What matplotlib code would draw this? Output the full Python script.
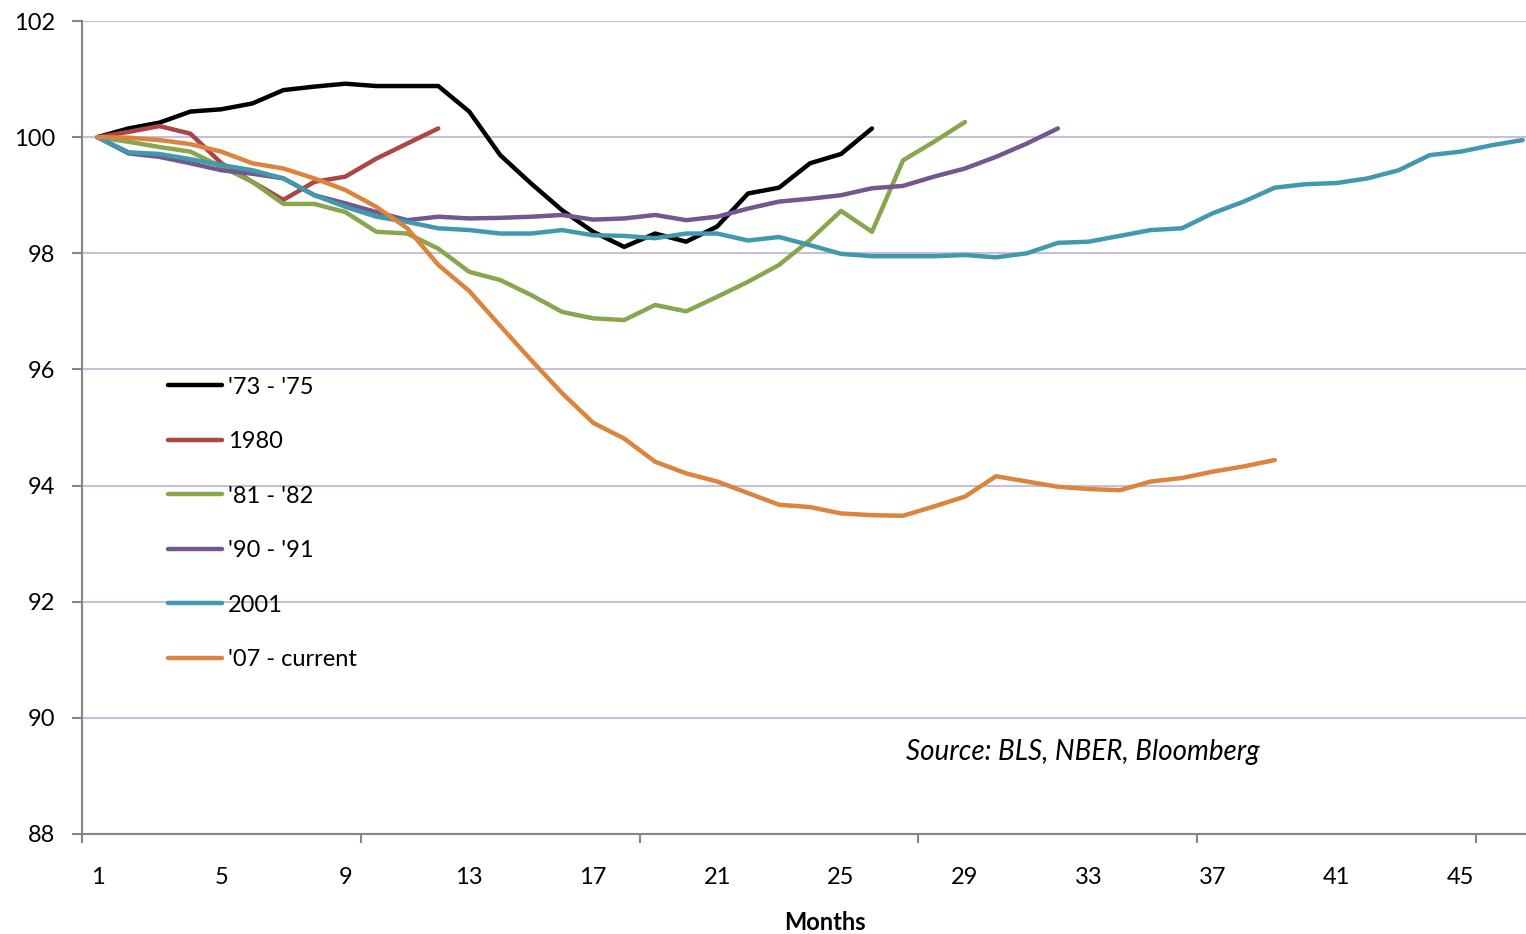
import matplotlib
matplotlib.use('Agg')
import matplotlib.pyplot as plt
from matplotlib.ticker import FixedLocator

plt.rcParams['font.family'] = ['Lato', 'DejaVu Sans']

# index of payroll employment, peak = 100, by month since the peak
months = list(range(1, 48))

s73_75 = [100.0, 100.15, 100.25, 100.44, 100.48, 100.58, 100.81, 100.87, 100.92, 100.88,
          100.88, 100.88, 100.44, 99.69, 99.2, 98.74, 98.37, 98.11, 98.34, 98.2,
          98.46, 99.03, 99.13, 99.55, 99.71, 100.15]
s1980 = [100.0, 100.09, 100.19, 100.06, 99.55, 99.23, 98.92, 99.23, 99.32, 99.63,
         99.89, 100.15]
s81_82 = [100.0, 99.92, 99.83, 99.75, 99.49, 99.23, 98.85, 98.85, 98.71, 98.37,
          98.34, 98.08, 97.68, 97.54, 97.28, 96.99, 96.88, 96.85, 97.11, 97.0,
          97.25, 97.51, 97.8, 98.23, 98.73, 98.37, 99.6, 99.92, 100.26]
s90_91 = [100.0, 99.72, 99.66, 99.55, 99.43, 99.37, 99.29, 99.0, 98.86, 98.71,
          98.57, 98.63, 98.6, 98.61, 98.63, 98.66, 98.58, 98.6, 98.66, 98.57,
          98.63, 98.77, 98.89, 98.94, 99.0, 99.12, 99.16, 99.32, 99.46, 99.66,
          99.89, 100.15]
s2001 = [100.0, 99.74, 99.71, 99.62, 99.52, 99.43, 99.29, 99.0, 98.8, 98.63,
         98.54, 98.43, 98.4, 98.34, 98.34, 98.4, 98.31, 98.3, 98.26, 98.34,
         98.34, 98.22, 98.28, 98.14, 97.99, 97.95, 97.95, 97.95, 97.97, 97.93,
         98.0, 98.18, 98.2, 98.3, 98.4, 98.43, 98.69, 98.89, 99.13, 99.19,
         99.21, 99.29, 99.43, 99.69, 99.75, 99.86, 99.95]
s07_cur = [100.0, 99.99, 99.95, 99.88, 99.75, 99.55, 99.46, 99.29, 99.09, 98.8,
           98.43, 97.8, 97.35, 96.75, 96.16, 95.59, 95.08, 94.81, 94.41, 94.21,
           94.07, 93.87, 93.67, 93.63, 93.52, 93.49, 93.48, 93.64, 93.81, 94.16,
           94.07, 93.98, 93.94, 93.92, 94.07, 94.13, 94.24, 94.33, 94.44]

labels = ["'73 - '75", "1980", "'81 - '82", "'90 - '91", "2001", "'07 - current"]
series = [s73_75, s1980, s81_82, s90_91, s2001, s07_cur]
colors = ['#000000', '#aa4643', '#89a54e', '#71588f', '#4198af', '#db843d']

fig = plt.figure(figsize=(15.26, 9.34), dpi=100)
ax = fig.add_axes([82 / 1526, 100 / 934, 1444 / 1526, 813 / 934])

for vals, lab, col in zip(series, labels, colors):
    ax.plot(months[:len(vals)], vals, color=col, lw=3.2, label=lab,
            solid_capstyle='round', solid_joinstyle='round')

ax.set_xlim(0.5, 47.11)
ax.set_ylim(88, 102)
ax.set_yticks(range(88, 103, 2))
ax.yaxis.grid(True, color='#c6bfdb', lw=1.5)
ax.set_axisbelow(True)

# tick marks between categories, labels on every 4th month
ax.xaxis.set_major_locator(FixedLocator([0.5, 9.5, 18.5, 27.5, 36.5, 45.5]))
ax.set_xticklabels([])
ax.set_xticks(range(1, 48, 4), minor=True)
ax.set_xticklabels([str(m) for m in range(1, 48, 4)], minor=True)
ax.tick_params(axis='x', which='major', length=6.5, width=1.5, color='#868686')
ax.tick_params(axis='x', which='minor', length=0, pad=24, labelsize=17)
ax.tick_params(axis='y', length=7, width=1.5, color='#868686', pad=12, labelsize=17)

for side in ['top', 'right']:
    ax.spines[side].set_visible(False)
for side in ['left', 'bottom']:
    ax.spines[side].set_color('#868686')
    ax.spines[side].set_linewidth(1.5)

ax.legend(loc='center left', bbox_to_anchor=(0.0596, 0.382), frameon=False,
          fontsize=17, handlelength=2.3, handletextpad=0.25, labelspacing=1.42,
          borderpad=0, borderaxespad=0)

fig.text(825 / 1526, 1 - 922 / 934, 'Months', ha='center', va='center',
         fontsize=17, fontweight='bold')
fig.text(906 / 1526, 1 - 752 / 934, 'Source: BLS, NBER, Bloomberg', ha='left',
         va='center', fontsize=20, style='italic')

fig.savefig('out.png', dpi=100)
